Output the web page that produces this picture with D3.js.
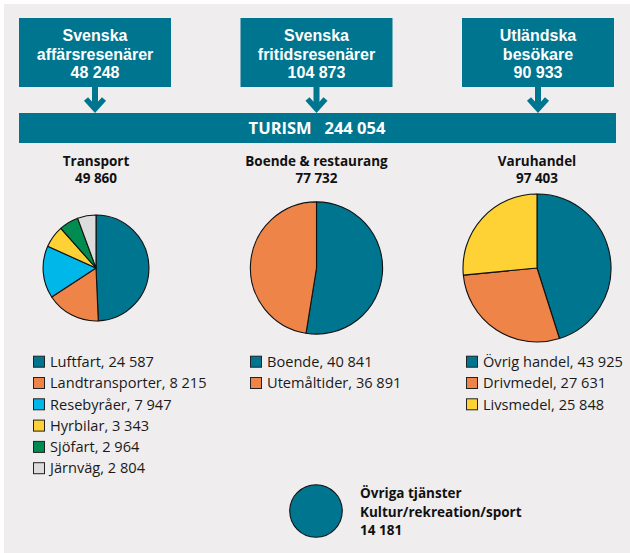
<!DOCTYPE html>
<html><head><meta charset="utf-8">
<script src="https://cdn.jsdelivr.net/npm/d3@7"></script>
<style>
html,body{margin:0;padding:0;background:#fff;}
svg{display:block;font-family:"Open Sans","Noto Sans",sans-serif;}
</style></head>
<body><svg id="c" width="630" height="553"></svg>
<script>
// ---- data ----
const sourceLabels = [["Svenska","affärsresenärer"],["Svenska","fritidsresenärer"],["Utländska","besökare"]];
const sourceValues = [48248, 104873, 90933];
const totalLabel = "TURISM";
const totalValue = 244054;
const groupNames = ["Transport","Boende & restaurang","Varuhandel"];
const groupTotals = [49860, 77732, 97403];
const transportLabels = ["Luftfart","Landtransporter","Resebyråer","Hyrbilar","Sjöfart","Järnväg"];
const transportValues = [24587, 8215, 7947, 3343, 2964, 2804];
const boendeLabels = ["Boende","Utemåltider"];
const boendeValues = [40841, 36891];
const varuLabels = ["Övrig handel","Drivmedel","Livsmedel"];
const varuValues = [43925, 27631, 25848];
const otherLabels = ["Övriga tjänster","Kultur/rekreation/sport"];
const otherValue = 14181;

// ---- styles ----
const teal = "#00758f";
const colorsByName = {
  "Luftfart":teal,"Landtransporter":"#ef8449","Resebyråer":"#00b7ea","Hyrbilar":"#fed134",
  "Sjöfart":"#008c50","Järnväg":"#dddcdd","Boende":teal,"Utemåltider":"#ef8449",
  "Övrig handel":teal,"Drivmedel":"#ef8449","Livsmedel":"#fed134"
};
const fmt = d3.formatLocale({decimal:",",thousands:" ",grouping:[3],currency:["",""]}).format(",d");

const svg = d3.select("#c");
svg.append("rect").attr("x",4).attr("y",4).attr("width",626).attr("height",549).attr("fill","#efedee");

const x = d3.scalePoint().domain(groupNames).range([96,537]);
const boxX = d3.scalePoint().domain(d3.range(3)).range([95,538]);
const r = d3.scaleSqrt().domain([0, d3.max(groupTotals)]).range([0,74]);

// source boxes
const boxW = 152, boxTop = 18, boxH = 69;
sourceLabels.forEach((lab,i)=>{
  const cx = boxX(i);
  svg.append("rect").attr("x",cx-boxW/2).attr("y",boxTop).attr("width",boxW).attr("height",boxH).attr("fill",teal);
  const lines = lab.concat([fmt(sourceValues[i])]);
  lines.forEach((t,j)=>{
    svg.append("text").attr("text-anchor","middle").attr("fill","#fff")
      .attr("font-family","'Liberation Sans',Arial,sans-serif")
      .attr("font-weight","bold").attr("font-size",16)
      .attr("x",cx).attr("y",41+j*18.5).text(t);
  });
  // arrow
  svg.append("rect").attr("x",cx-3).attr("y",boxTop+boxH).attr("width",6).attr("height",22).attr("fill",teal);
  svg.append("path").attr("d",`M${cx-9},${99}L${cx},${109}L${cx+9},${99}`)
    .attr("fill","none").attr("stroke",teal).attr("stroke-width",5.5);
});

// total bar
svg.append("rect").attr("x",19).attr("y",113).attr("width",597).attr("height",30).attr("fill",teal);
svg.append("text").attr("x",317).attr("y",134).attr("text-anchor","middle").attr("fill","#fff")
  .attr("font-weight","bold").attr("font-size",16.5).attr("xml:space","preserve")
  .text(totalLabel + "   " + fmt(totalValue));

// pies
const groups = [
  {labels:transportLabels, values:transportValues},
  {labels:boendeLabels, values:boendeValues},
  {labels:varuLabels, values:varuValues}
];
const legendX = [33, 250, 466];
const pie = d3.pie().sort(null).value(d=>d.v);
groups.forEach((g,i)=>{
  const cx = x(groupNames[i]), cy = 268;
  [groupNames[i], fmt(groupTotals[i])].forEach((t,j)=>{
    svg.append("text").attr("text-anchor","middle").attr("font-weight","bold").attr("font-size",13.5)
      .attr("fill","#111").attr("x",cx).attr("y",166+j*17).text(t);
  });
  const arc = d3.arc().innerRadius(0).outerRadius(r(groupTotals[i]));
  const data = g.labels.map((l,k)=>({l, v:g.values[k]}));
  svg.append("g").attr("transform",`translate(${cx},${cy})`)
    .selectAll("path").data(pie(data)).join("path")
    .attr("d",arc).attr("fill",d=>colorsByName[d.data.l])
    .attr("stroke","#111").attr("stroke-width",1.1).attr("stroke-linejoin","round");
  // legend
  const lg = svg.append("g");
  data.forEach((d,k)=>{
    const yy = 361.7 + k*21.3;
    lg.append("rect").attr("x",legendX[i]+0.5).attr("y",yy-5.5).attr("width",11).attr("height",11)
      .attr("fill",colorsByName[d.l]).attr("stroke","#222").attr("stroke-width",1);
    lg.append("text").attr("x",legendX[i]+17).attr("y",yy+5.2).attr("font-size",14.6).attr("fill","#1a1a1a")
      .text(d.l + ", " + fmt(d.v));
  });
});

// other services circle
svg.append("circle").attr("cx",316).attr("cy",511).attr("r",r(otherValue)*0.93)
  .attr("fill",teal).attr("stroke","#111").attr("stroke-width",1.1);
otherLabels.concat([fmt(otherValue)]).forEach((t,j)=>{
  svg.append("text").attr("font-weight","bold").attr("font-size",13.5).attr("fill","#111")
    .attr("x",360).attr("y",498+j*18.7).text(t);
});
</script></body></html>
